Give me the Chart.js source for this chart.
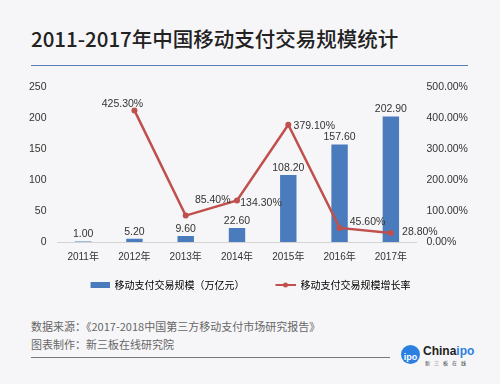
<!DOCTYPE html>
<html>
<head>
<meta charset="utf-8">
<script src="https://cdn.jsdelivr.net/npm/chart.js@4/dist/chart.umd.min.js"></script>
<style>
  html, body { margin: 0; padding: 0; }
  body { width: 500px; height: 384px; background: #f6f6f8; position: relative; overflow: hidden;
         font-family: 'Noto Sans CJK SC', sans-serif; }
  #title { position: absolute; left: 31px; top: 24px; font-size: 20.5px; font-weight: 500; color: #222; white-space: nowrap; line-height: 28px; }
  #rule { position: absolute; left: 31px; top: 65px; width: 437px; height: 0; border-top: 1.5px solid #5a7fb8; }
  #box { position: absolute; left: 0; top: 70px; width: 500px; height: 230px; }
  .foot { position: absolute; left: 31px; font-size: 11px; color: #666; white-space: nowrap; line-height: 14px; }
  #line2 { position: absolute; left: 31px; top: 357px; width: 359px; border-top: 1px solid #777; }
  #logo { position: absolute; left: 401px; top: 345px; width: 19px; height: 19px; border-radius: 50%; background: #2b7fe0;
          color: #fff; font: bold 9px 'Liberation Sans', sans-serif; text-align: center; line-height: 24px; }
  #brand { position: absolute; left: 423px; top: 344px; font: bold 12px 'Liberation Sans', sans-serif; color: #222; }
  #brand span { color: #2b7fe0; }
  #brand2 { position: absolute; left: 425px; top: 359px; font-size: 5px; color: #333; letter-spacing: 4px; white-space: nowrap; }
</style>
</head>
<body>
<div id="title">2011-2017年中国移动支付交易规模统计</div>
<div id="rule"></div>
<div id="box"><canvas id="c"></canvas></div>
<div class="foot" style="top:319px">数据来源：《2017-2018中国第三方移动支付市场研究报告》</div>
<div class="foot" style="top:337px">图表制作：新三板在线研究院</div>
<div id="line2"></div>
<div id="logo">ipo</div>
<div id="brand">China<span>ipo</span></div>
<div id="brand2">新三板在线</div>
<script>
const YEARS = ['2011年', '2012年', '2013年', '2014年', '2015年', '2016年', '2017年']
const VOLUME = [1.00, 5.20, 9.60, 22.60, 108.20, 157.60, 202.90]
const GROWTH = [null, 425.30, 85.40, 134.30, 379.10, 45.60, 28.80]
const VOLUME_LABEL = '移动支付交易规模（万亿元）'
const GROWTH_LABEL = '移动支付交易规模增长率'

const BLUE = '#4a7bbd'
const RED = '#c0504d'
const FONT = "'Liberation Sans', 'Noto Sans CJK SC', sans-serif"

// where each growth label sits relative to its point (dx, dy)
const growthLabelPos = [null, [-12, -6], [27, -15], [24, 3], [26, 1], [28, -6], [29, -1]]

// legend swatches: 37px wide, mark on the right 20px (left part is spacing)
function swatch(kind) {
  const c = document.createElement('canvas')
  c.width = 37; c.height = 8
  const g = c.getContext('2d')
  if (kind === 'bar') {
    g.fillStyle = BLUE
    g.fillRect(18, 1, 19, 6)
  } else {
    g.strokeStyle = RED
    g.lineWidth = 2
    g.beginPath(); g.moveTo(17, 4); g.lineTo(37, 4); g.stroke()
    g.fillStyle = RED
    g.beginPath(); g.arc(27, 4, 2.5, 0, Math.PI * 2); g.fill()
  }
  return c
}

const valueLabels = {
  id: 'valueLabels',
  afterDatasetsDraw(chart) {
    const ctx = chart.ctx
    ctx.save()
    ctx.font = '10.5px ' + FONT
    ctx.fillStyle = '#333'
    ctx.textAlign = 'center'
    ctx.textBaseline = 'middle'
    chart.getDatasetMeta(0).data.forEach((el, i) => {
      ctx.fillText(VOLUME[i].toFixed(2), el.x, el.y - 7)
    })
    chart.getDatasetMeta(1).data.forEach((el, i) => {
      if (GROWTH[i] == null) return
      const p = growthLabelPos[i]
      ctx.fillText(GROWTH[i].toFixed(2) + '%', el.x + p[0], el.y + p[1])
    })
    ctx.restore()
  }
}

Chart.defaults.font.family = FONT
Chart.defaults.font.size = 10.5
Chart.defaults.color = '#333'

new Chart(document.getElementById('c'), {
  data: {
    labels: YEARS,
    datasets: [
      {
        type: 'bar',
        label: VOLUME_LABEL,
        data: VOLUME,
        yAxisID: 'y',
        backgroundColor: BLUE,
        barPercentage: 0.32,
        categoryPercentage: 1,
        order: 2,
      },
      {
        type: 'line',
        label: GROWTH_LABEL,
        data: GROWTH,
        yAxisID: 'y2',
        borderColor: RED,
        backgroundColor: RED,
        borderWidth: 2.5,
        pointRadius: 3,
        pointBackgroundColor: RED,
        pointBorderWidth: 0,
        tension: 0,
        order: 1,
      },
    ],
  },
  options: {
    responsive: true,
    maintainAspectRatio: false,
    animation: false,
    layout: { padding: { top: 17, left: 0, right: 17, bottom: 0 } },
    plugins: {
      tooltip: { enabled: false },
      legend: {
        position: 'bottom',
        labels: {
          usePointStyle: true,
          pointStyleWidth: 37,
          padding: 14,
          font: { size: 10, family: "'Noto Sans CJK SC', sans-serif" },
          color: '#333',
          generateLabels(chart) {
            return chart.data.datasets.map((ds, i) => ({
              text: ds.label,
              pointStyle: swatch(ds.type),
              datasetIndex: i,
              lineWidth: 0,
              hidden: false,
            }))
          },
        },
      },
    },
    scales: {
      x: {
        grid: { display: false, drawTicks: false },
        border: { display: true, color: '#d4d4d4' },
        ticks: { padding: 9, font: { size: 10 } },
        afterFit(s) { s.height = 24 },
      },
      y: {
        position: 'left',
        min: 0,
        max: 250,
        grid: { display: false, drawTicks: false },
        border: { display: false },
        ticks: { stepSize: 50, padding: 11 },
        afterFit(s) { s.width = 57.5 },
      },
      y2: {
        position: 'right',
        min: 0,
        max: 500,
        grid: { display: false, drawTicks: false },
        border: { display: false },
        ticks: { stepSize: 100, padding: 10, callback: v => v.toFixed(2) + '%' },
        afterFit(s) { s.width = 66.5 },
      },
    },
  },
  plugins: [valueLabels],
})
</script>
</body>
</html>
